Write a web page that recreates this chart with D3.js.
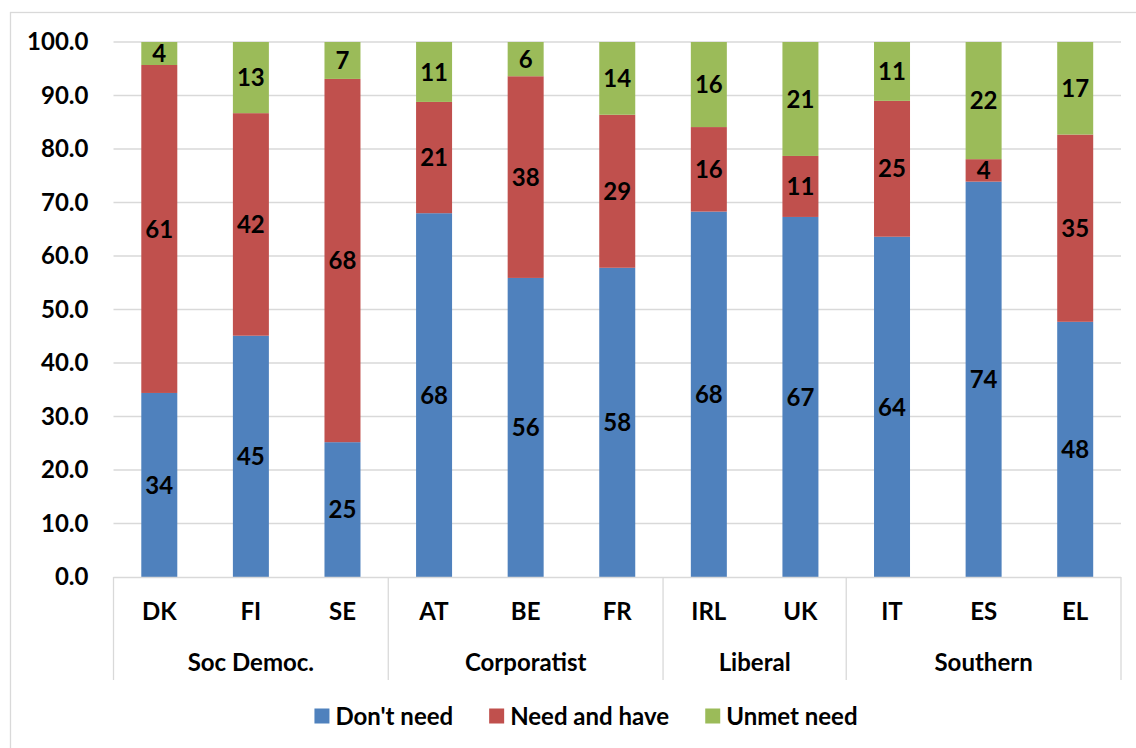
<!DOCTYPE html>
<meta charset="utf-8">
<title>Care need by welfare regime</title>
<head>
<style>
body {
  margin: 0;
  background-color: #fff;
  font-family: Lato, "Open Sans", sans-serif;
}
svg text {
  font-weight: bold;
  fill: #000;
}
.grid line {
  stroke: #d9d9d9;
  stroke-width: 1.3px;
}
</style>
</head>
<body>
<svg width="1136" height="748"></svg>
<script src="https://d3js.org/d3.v7.min.js"></script>
<script>
// countries and the regime they belong to
var countries = ["DK", "FI", "SE", "AT", "BE", "FR", "IRL", "UK", "IT", "ES", "EL"];
var groups = ["Soc Democ.", "Corporatist", "Liberal", "Southern"];
var groupSizes = [3, 3, 2, 3];

var seriesNames = ["Don't need", "Need and have", "Unmet need"];
var dontNeed    = [34.4, 45.1, 25.2, 68.0, 55.9, 57.8, 68.3, 67.3, 63.6, 73.9, 47.7];
var needAndHave = [61.3, 41.6, 67.9, 20.8, 37.7, 28.6, 15.8, 11.4, 25.4,  4.2, 35.0];
var unmetNeed   = [ 4.3, 13.3,  6.9, 11.2,  6.4, 13.6, 15.9, 21.3, 11.0, 21.9, 17.3];

var yTicks = [0, 10, 20, 30, 40, 50, 60, 70, 80, 90, 100];
var colors = ["#4f81bd", "#c0504d", "#9bbb59"];

var fontSize = "24px";

var svg = d3.select("svg"),
    margin = {top: 42, right: 15, bottom: 171, left: 113.5},
    width = 1136 - margin.left - margin.right,
    height = 748 - margin.top - margin.bottom;

// outer chart frame
svg.append("rect")
    .attr("x", 10.5).attr("y", 12.5)
    .attr("width", 1140).attr("height", 760)
    .attr("fill", "none")
    .attr("stroke", "#d9d9d9")
    .attr("stroke-width", 1.3);

var g = svg.append("g").attr("transform", "translate(" + margin.left + "," + margin.top + ")");

var x = d3.scaleBand()
    .domain(countries)
    .range([0, width])
    .paddingInner(0.607)
    .paddingOuter(0.3035);

var y = d3.scaleLinear().domain([0, 100]).range([height, 0]);
var z = d3.scaleOrdinal().domain(seriesNames).range(colors);

// gridlines
g.append("g")
    .attr("class", "grid")
    .selectAll("line")
    .data(yTicks.filter(function(d) { return d > 0; }))
    .enter().append("line")
    .attr("x1", 0).attr("x2", width)
    .attr("y1", function(d) { return y(d); })
    .attr("y2", function(d) { return y(d); });

// y axis labels
var yAxis = d3.axisLeft(y)
    .tickValues(yTicks)
    .tickFormat(d3.format(".1f"))
    .tickSize(0)
    .tickPadding(25);

var yGroup = g.append("g").call(yAxis);
yGroup.select(".domain").remove();
yGroup.selectAll("text")
    .style("font-size", fontSize)
    .style("font-family", "Lato, sans-serif")
    .attr("font-weight", "bold");

// stack the three series
var table = countries.map(function(c, i) {
  return {country: c, "Don't need": dontNeed[i], "Need and have": needAndHave[i], "Unmet need": unmetNeed[i]};
});
var stacked = d3.stack().keys(seriesNames)(table);

var layer = g.selectAll(".layer")
    .data(stacked)
    .enter().append("g")
    .attr("class", "layer")
    .attr("fill", function(d) { return z(d.key); });

layer.selectAll("rect")
    .data(function(d) { return d; })
    .enter().append("rect")
    .attr("x", function(d) { return x(d.data.country); })
    .attr("width", x.bandwidth())
    .attr("y", function(d) { return y(d[1]); })
    .attr("height", function(d) { return y(d[0]) - y(d[1]); });

layer.selectAll("text")
    .data(function(d) { return d; })
    .enter().append("text")
    .attr("x", function(d) { return x(d.data.country) + x.bandwidth() / 2; })
    .attr("y", function(d) { return y((d[0] + d[1]) / 2); })
    .attr("dy", "0.36em")
    .attr("text-anchor", "middle")
    .style("font-size", fontSize)
    .text(function(d) { return Math.round(d[1] - d[0]); });

// category axis: base line, country names, regime groups
var axisColor = "#d9d9d9";
g.append("line")
    .attr("x1", 0).attr("x2", width)
    .attr("y1", height + 0.5).attr("y2", height + 0.5)
    .attr("stroke", axisColor).attr("stroke-width", 1.3);

g.selectAll(".country")
    .data(countries)
    .enter().append("text")
    .attr("class", "country")
    .attr("x", function(d) { return x(d) + x.bandwidth() / 2; })
    .attr("y", height + 34)
    .attr("dy", "0.36em")
    .attr("text-anchor", "middle")
    .style("font-size", fontSize)
    .text(function(d) { return d; });

var step = x.step();
var start = 0;
var groupData = groups.map(function(name, i) {
  var o = {name: name, from: start, to: start + groupSizes[i]};
  start += groupSizes[i];
  return o;
});

g.selectAll(".sep")
    .data([0].concat(groupData.map(function(d) { return d.to; })))
    .enter().append("line")
    .attr("class", "sep")
    .attr("x1", function(d) { return d * step; })
    .attr("x2", function(d) { return d * step; })
    .attr("y1", height)
    .attr("y2", height + 103)
    .attr("stroke", axisColor).attr("stroke-width", 1.3);

g.selectAll(".group")
    .data(groupData)
    .enter().append("text")
    .attr("class", "group")
    .attr("x", function(d) { return (d.from + d.to) / 2 * step; })
    .attr("y", height + 85)
    .attr("dy", "0.36em")
    .attr("text-anchor", "middle")
    .style("font-size", fontSize)
    .text(function(d) { return d.name; });

// legend
var legend = svg.append("g").attr("transform", "translate(0,716)");
var item = legend.selectAll(".item")
    .data(seriesNames)
    .enter().append("g")
    .attr("class", "item");

item.append("rect")
    .attr("y", -7.5)
    .attr("width", 15).attr("height", 15)
    .attr("fill", function(d) { return z(d); });

item.append("text")
    .attr("x", 21)
    .attr("dy", "0.36em")
    .style("font-size", fontSize)
    .text(function(d) { return d; });

var widths = [];
item.each(function() { widths.push(this.getBBox().width); });
var gap = 36;
var total = d3.sum(widths) + gap * (widths.length - 1);
var pos = 586 - total / 2;
item.attr("transform", function(d, i) {
  var p = pos;
  pos += widths[i] + gap;
  return "translate(" + p + ",0)";
});
</script>
</body>
